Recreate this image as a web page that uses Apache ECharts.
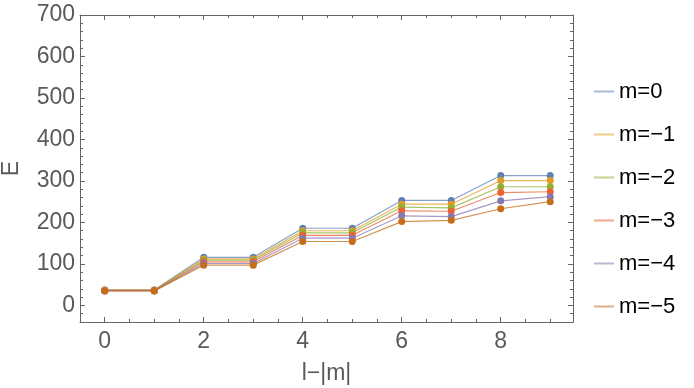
<!DOCTYPE html>
<html>
<head>
<meta charset="utf-8">
<script src="https://cdn.jsdelivr.net/npm/echarts@6/dist/echarts.min.js"></script>
<style>
  html, body { margin: 0; padding: 0; background: #fff; }
  #chart { width: 694px; height: 388px; }
</style>
</head>
<body>
<div id="chart"></div>
<script>
// l-|m| values on the x axis
var lValues = [0, 1, 2, 3, 4, 5, 6, 7, 8, 9]
var seriesNames = ['m=0', 'm=\u22121', 'm=\u22122', 'm=\u22123', 'm=\u22124', 'm=\u22125']
// energies, one list per m
var eM0 = [37, 37, 116, 116, 186, 186, 253, 253, 313, 313]
var eM1 = [37, 37, 112, 112, 180, 180, 244, 244, 301, 301]
var eM2 = [36, 36, 109, 109, 175, 175, 237, 235, 286, 286]
var eM3 = [36, 36, 105, 105, 169, 169, 228, 227, 272, 274]
var eM4 = [35, 35, 101, 101, 162, 162, 216, 214, 252, 262]
var eM5 = [35, 35, 97, 97, 154, 154, 202, 205, 233, 250]
var xMajorTicks = [0, 2, 4, 6, 8]
var yMajorTicks = [0, 100, 200, 300, 400, 500, 600, 700]

var colors = ['#5e81b5', '#e19c24', '#8fb032', '#eb6235', '#8778b3', '#c56e1a']
var allSeries = [eM0, eM1, eM2, eM3, eM4, eM5]

var frameColor = '#666'
var labelStyle = { color: '#5a5a5a', fontSize: 23, fontFamily: 'Liberation Sans, Arial, sans-serif' }

// build one axis of the frame: minor ticks, or major ticks only
function frameAxis (pos, min, max, step, major, extra) {
    var ax = {
        type: 'value',
        position: pos,
        min: min,
        max: max,
        interval: step,
        splitLine: { show: false },
        axisLine: { show: !major, onZero: false, lineStyle: { color: frameColor, width: 1 } },
        axisTick: { show: true, inside: true, length: 3, lineStyle: { color: frameColor } },
        axisLabel: { show: false }
    }
    if (major) {
        ax.axisTick.length = 5
        ax.axisTick.customValues = major
    }
    return Object.assign(ax, extra || {})
}

var xAxes = [
    frameAxis('bottom', -0.5, 9.46, 0.5, null, {
        name: 'l\u2212|m|',
        nameLocation: 'middle',
        nameGap: 40,
        nameTextStyle: labelStyle,
        axisLabel: Object.assign({ show: true, margin: 8, customValues: xMajorTicks }, labelStyle)
    }),
    frameAxis('bottom', -0.5, 9.46, 0.5, xMajorTicks),
    frameAxis('top', -0.5, 9.46, 0.5, null),
    frameAxis('top', -0.5, 9.46, 0.5, xMajorTicks)
]
var yAxes = [
    frameAxis('left', -40, 700, 20, null, {
        name: 'E',
        nameLocation: 'middle',
        nameGap: 57,
        nameTextStyle: labelStyle,
        axisLabel: Object.assign({ show: true, margin: 5, customValues: yMajorTicks }, labelStyle)
    }),
    frameAxis('left', -40, 700, 20, yMajorTicks),
    frameAxis('right', -40, 700, 20, null),
    frameAxis('right', -40, 700, 20, yMajorTicks)
]

var series = allSeries.map(function (vals, i) {
    return {
        name: seriesNames[i],
        type: 'line',
        xAxisIndex: 0,
        yAxisIndex: 0,
        data: vals.map(function (v, j) { return [lValues[j], v] }),
        symbol: 'circle',
        symbolSize: 7,
        itemStyle: { color: colors[i] },
        lineStyle: { color: colors[i], width: 1.2, opacity: 0.75 },
        z: 2 + i
    }
})

var myChart = echarts.init(document.getElementById('chart'))
myChart.setOption({
    animation: false,
    color: colors,
    grid: { left: 80, right: 121, top: 15, bottom: 66, containLabel: false, outerBoundsMode: 'none' },
    legend: {
        orient: 'vertical',
        left: 589,
        top: 75,
        icon: 'rect',
        itemWidth: 20,
        itemHeight: 2,
        itemGap: 20,
        itemStyle: { opacity: 0.55 },
        textStyle: { color: '#000', fontSize: 22, lineHeight: 23, fontFamily: 'Liberation Sans, Arial, sans-serif' },
        data: seriesNames
    },
    xAxis: xAxes,
    yAxis: yAxes,
    series: series
})
</script>
</body>
</html>
